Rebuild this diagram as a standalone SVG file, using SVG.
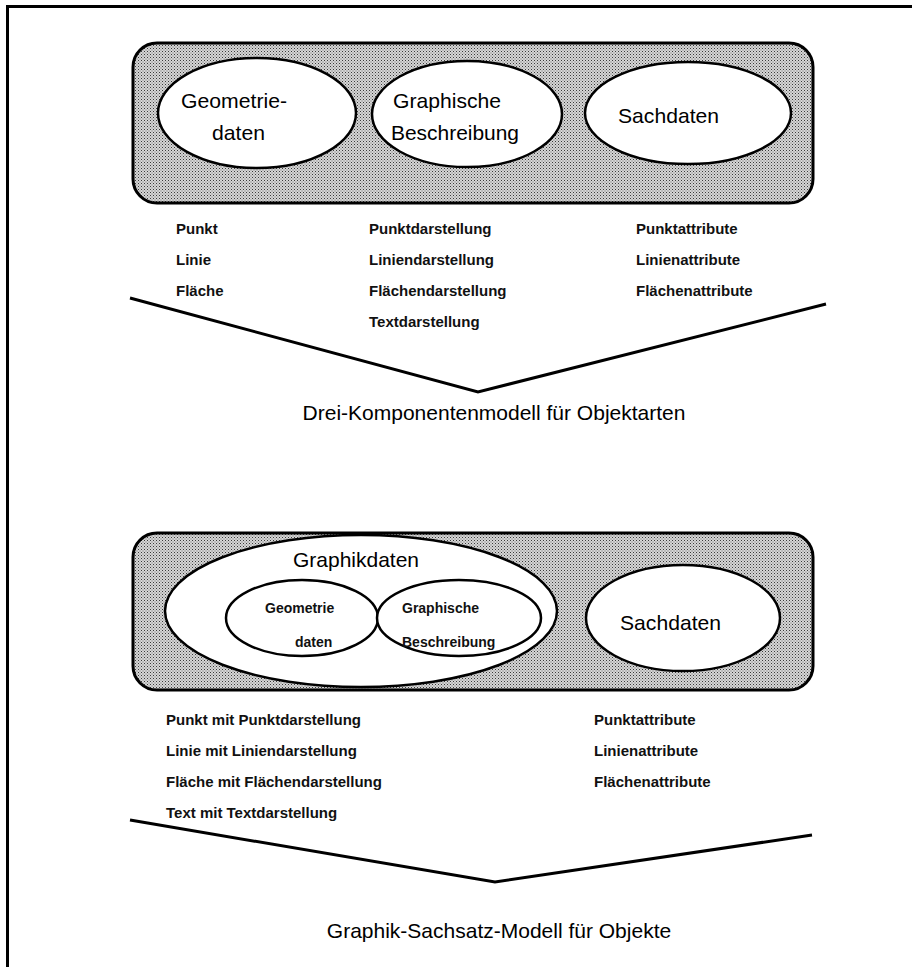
<svg xmlns="http://www.w3.org/2000/svg" width="912" height="967" viewBox="0 0 912 967">
<defs>
<pattern id="dots" width="3" height="3" patternUnits="userSpaceOnUse">
<rect width="3" height="3" fill="#d6d6d6"/>
<rect x="0" y="0" width="1" height="1" fill="#3a3a3a"/>
<rect x="1.5" y="1.5" width="1" height="1" fill="#6a6a6a"/>
</pattern>
</defs>
<style>
.box{fill:url(#dots);stroke:#000;stroke-width:3}
.ell{fill:#fff;stroke:#000;stroke-width:2.5}
.big{font-family:"Liberation Sans",Arial,sans-serif;font-size:21px;fill:#000}
.small{font-family:"Liberation Sans",Arial,sans-serif;font-size:15px;font-weight:bold;fill:#111}
.inner{font-family:"Liberation Sans",Arial,sans-serif;font-size:14px;font-weight:bold;fill:#111}
.cap{font-family:"Liberation Sans",Arial,sans-serif;font-size:21px;fill:#000}
.line{fill:none;stroke:#000;stroke-width:3;stroke-linejoin:miter}
</style>
<g id="frame">
<path d="M7.5 967 V6.5 H912" fill="none" stroke="#000" stroke-width="3"/>
</g>

<g id="top-model">
<rect class="box" x="133" y="43" width="680" height="160" rx="24"/>
<g id="geometriedaten">
<ellipse class="ell" cx="257" cy="113" rx="99" ry="55"/>
<text class="big" x="181" y="108" textLength="106" lengthAdjust="spacingAndGlyphs">Geometrie-</text>
<text class="big" x="212" y="140" textLength="53" lengthAdjust="spacingAndGlyphs">daten</text>
</g>
<g id="graphische-beschreibung">
<ellipse class="ell" cx="467" cy="114" rx="95" ry="53"/>
<text class="big" x="393" y="108" textLength="108" lengthAdjust="spacingAndGlyphs">Graphische</text>
<text class="big" x="391" y="140" textLength="128" lengthAdjust="spacingAndGlyphs">Beschreibung</text>
</g>
<g id="sachdaten-top">
<ellipse class="ell" cx="688" cy="113" rx="103" ry="51"/>
<text class="big" x="618" y="123" textLength="101" lengthAdjust="spacingAndGlyphs">Sachdaten</text>
</g>
</g>

<g id="top-lists">
<text class="small" x="176" y="234">Punkt</text>
<text class="small" x="176" y="265">Linie</text>
<text class="small" x="176" y="296">Fläche</text>
<text class="small" x="369" y="234">Punktdarstellung</text>
<text class="small" x="369" y="265">Liniendarstellung</text>
<text class="small" x="369" y="296">Flächendarstellung</text>
<text class="small" x="369" y="327">Textdarstellung</text>
<text class="small" x="636" y="234">Punktattribute</text>
<text class="small" x="636" y="265">Linienattribute</text>
<text class="small" x="636" y="296">Flächenattribute</text>
</g>

<g id="connectors">
<polyline class="line" points="130,298 478,392 826,304"/>
<polyline class="line" points="130,820 495,882 812,835"/>
</g>

<text class="cap" x="494" y="420" text-anchor="middle">Drei-Komponentenmodell für Objektarten</text>

<g id="bottom-model">
<rect class="box" x="133" y="533" width="680" height="157" rx="24"/>
<g id="graphikdaten">
<ellipse class="ell" cx="361" cy="611" rx="196" ry="76"/>
<text class="big" x="356" y="567" text-anchor="middle">Graphikdaten</text>
<g id="geometrie-inner">
<ellipse class="ell" cx="302" cy="618" rx="76" ry="38"/>
<text class="inner" x="265" y="613">Geometrie</text>
<text class="inner" x="295" y="647">daten</text>
</g>
<g id="graphische-inner">
<ellipse class="ell" cx="459" cy="618" rx="82" ry="38"/>
<text class="inner" x="402" y="613">Graphische</text>
<text class="inner" x="402" y="647">Beschreibung</text>
</g>
</g>
<g id="sachdaten-bottom">
<ellipse class="ell" cx="683" cy="618" rx="97" ry="53"/>
<text class="big" x="620" y="630" textLength="101" lengthAdjust="spacingAndGlyphs">Sachdaten</text>
</g>
</g>

<g id="bottom-lists">
<text class="small" x="166" y="725">Punkt mit Punktdarstellung</text>
<text class="small" x="166" y="756">Linie mit Liniendarstellung</text>
<text class="small" x="166" y="787">Fläche mit Flächendarstellung</text>
<text class="small" x="166" y="818">Text mit Textdarstellung</text>
<text class="small" x="594" y="725">Punktattribute</text>
<text class="small" x="594" y="756">Linienattribute</text>
<text class="small" x="594" y="787">Flächenattribute</text>
</g>

<text class="cap" x="499" y="938" text-anchor="middle">Graphik-Sachsatz-Modell für Objekte</text>
</svg>
